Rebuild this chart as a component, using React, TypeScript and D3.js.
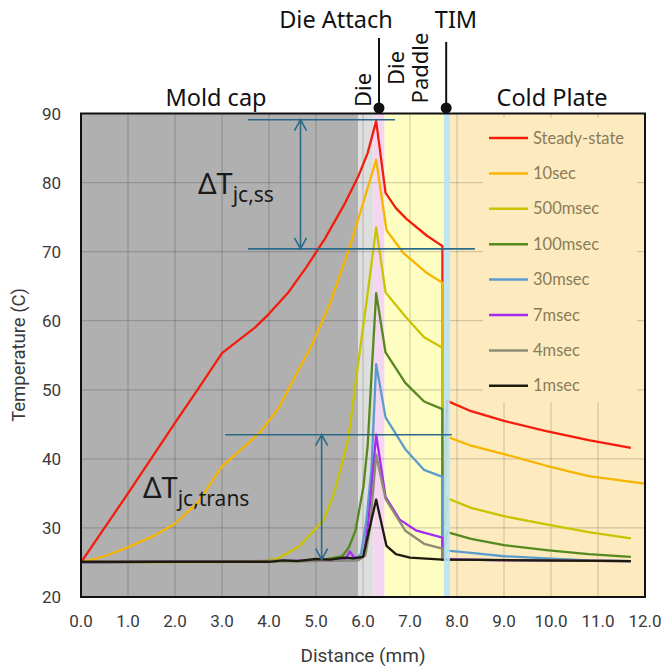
import * as d3 from "d3";

// distance (mm) / temperature (C) pairs
const steadyState: [number, number][] = [
  [0, 25], [0.5, 30], [1, 35], [1.5, 40.1], [2, 45.2], [2.5, 50.2], [3, 55.3], [3.3, 56.9],
  [3.7, 59.0], [4.0, 61.0], [4.4, 64.0], [4.8, 67.8], [5.2, 72.0], [5.6, 76.8], [5.9, 80.9],
  [6.1, 84.3], [6.28, 88.9], [6.48, 78.5], [6.7, 76.3], [6.93, 74.7], [7.36, 72.3], [7.69, 70.8],
  [7.69, 25.4], [7.79, 48.4], [8.3, 46.9], [9.0, 45.5], [9.9, 44.0], [10.8, 42.7], [11.7, 41.6],
];
const tenSec: [number, number][] = [
  [0, 25], [0.5, 25.9], [1, 27.2], [1.5, 28.7], [2, 30.6], [2.5, 33.8], [3, 38.9], [3.4, 41.3],
  [3.8, 43.8], [4.2, 47.3], [4.6, 52.5], [4.9, 56.3], [5.3, 62.5], [5.72, 70.7], [6.0, 77.0],
  [6.28, 83.3], [6.5, 73.1], [6.86, 69.8], [7.36, 66.9], [7.69, 65.5],
  [7.69, 25.4], [7.79, 43.2], [8.3, 41.9], [9.0, 40.7], [9.9, 39.0], [10.8, 37.5], [12.0, 36.4],
];
const fiveHundredMs: [number, number][] = [
  [0, 25], [3.8, 25.1], [4.2, 25.6], [4.64, 27.3], [5.16, 31.1], [5.4, 35.3], [5.69, 43.0],
  [5.94, 56.0], [6.1, 64.0], [6.28, 73.5], [6.48, 64.1], [6.9, 60.6], [7.3, 57.6], [7.69, 56.1],
  [7.69, 25.4], [7.79, 34.3], [8.3, 32.9], [9.0, 31.7], [9.9, 30.5], [10.8, 29.4], [11.7, 28.5],
];
const hundredMs: [number, number][] = [
  [0, 25], [5.0, 25.2], [5.56, 25.9], [5.7, 27.2], [5.84, 29.6], [6.01, 36.0], [6.1, 42.0],
  [6.18, 52.0], [6.28, 64.0], [6.48, 55.4], [6.9, 51.0], [7.3, 48.3], [7.69, 47.2],
  [7.69, 25.4], [7.79, 29.4], [8.3, 28.4], [9.0, 27.5], [9.9, 26.8], [10.8, 26.2], [11.7, 25.8],
];
const thirtyMs: [number, number][] = [
  [0, 25], [5.85, 25.3], [5.96, 26.3], [6.07, 31.0], [6.18, 38.5], [6.28, 53.7], [6.48, 46.0],
  [6.9, 41.4], [7.3, 38.4], [7.69, 37.4],
  [7.69, 25.4], [7.79, 26.7], [8.3, 26.4], [9.0, 25.9], [9.9, 25.6], [10.8, 25.3], [11.7, 25.2],
];
const sevenMs: [number, number][] = [
  [0, 25], [5.5, 25.3], [5.62, 25.4], [5.72, 26.6], [5.8, 25.8], [5.93, 25.6], [6.02, 26.0],
  [6.12, 31.3], [6.28, 43.5], [6.48, 34.5], [6.78, 31.2], [7.14, 29.6], [7.69, 28.6],
  [7.69, 25.4], [7.79, 25.5], [9.0, 25.3], [11.7, 25.2],
];
const fourMs: [number, number][] = [
  [0, 25], [5.9, 25.3], [6.05, 26.0], [6.15, 30.0], [6.28, 40.6], [6.48, 34.2], [6.9, 29.6],
  [7.3, 27.7], [7.69, 27.0], [7.69, 25.4], [7.79, 25.4], [11.7, 25.2],
];
const oneMs: [number, number][] = [
  [0, 25.1], [4.0, 25.1], [4.3, 25.3], [4.6, 25.2], [5.0, 25.5], [5.3, 25.4], [5.6, 25.7],
  [5.8, 25.6], [6.0, 25.8], [6.28, 34.1], [6.5, 27.4], [6.7, 26.2], [7.0, 25.7], [7.69, 25.4],
  [11.7, 25.2],
];

const seriesNames = ["Steady-state", "10sec", "500msec", "100msec", "30msec", "7msec", "4msec", "1msec"];
const seriesColors = ["#f41c0c", "#f7b500", "#c9c300", "#55881e", "#5b9ccc", "#a42cf0", "#8e8a74", "#1e1a0e"];
const allSeries = [steadyState, tenSec, fiveHundredMs, hundredMs, thirtyMs, sevenMs, fourMs, oneMs];

// layer bands along distance
const layerStart = [0, 5.9, 6.22, 6.46, 7.72, 7.85];
const layerEnd = [5.9, 6.22, 6.46, 7.72, 7.85, 12];
const layerColors = ["#b0b0b0", "#dedede", "#f4d6f0", "#fefdc2", "#b6e2f2", "#fdebbf"];

const distTicks = d3.range(0, 13, 1);
const tempTicks = d3.range(20, 100, 10);

const W = 665, H = 667;

export default function App() {
  const x = d3.scaleLinear().domain([0, 12]).range([81, 645]);
  const y = d3.scaleLinear().domain([20, 90]).range([597, 113.5]);
  const line = d3.line<[number, number]>().x(d => x(d[0])).y(d => y(d[1]));
  const teal = "#2b6a88";
  const lab = "'Noto Sans', sans-serif";
  const tick = "Roboto, sans-serif";

  const arrow = (ax: number, y1: number, y2: number) =>
    `M${ax - 6},${y1 + 11}L${ax},${y1}L${ax + 6},${y1 + 11}M${ax},${y1}L${ax},${y2}M${ax - 6},${y2 - 11}L${ax},${y2}L${ax + 6},${y2 - 11}`;

  return (
    <svg width={W} height={H} style={{ position: "absolute", left: 0, top: 0, background: "#fff" }}>
      {/* layer backgrounds (TIM drawn on top of the lines later) */}
      {layerStart.map((s, i) => i === 4 ? null : (
        <rect key={i} x={x(s)} y={y(90)} width={x(layerEnd[i]) - x(s)} height={y(20) - y(90)} fill={layerColors[i]} />
      ))}
      {/* grid */}
      {distTicks.map(t => (
        <line key={"gx" + t} x1={x(t)} x2={x(t)} y1={y(20)} y2={y(90)} stroke="rgba(0,0,0,0.17)" strokeWidth={1.2} />
      ))}
      {tempTicks.map(t => (
        <line key={"gy" + t} x1={x(0)} x2={x(12)} y1={y(t)} y2={y(t)} stroke="rgba(0,0,0,0.17)" strokeWidth={1.2} />
      ))}
      {/* legend box */}
      <rect x={483} y={118} width={154} height={284} fill={layerColors[5]} />
      {seriesNames.map((n, i) => (
        <g key={n}>
          <line x1={489} x2={528} y1={138 + i * 35.4} y2={138 + i * 35.4} stroke={seriesColors[i]} strokeWidth={2.5} />
          <text x={533} y={138 + i * 35.4 + 5.5} fontFamily="Lato, sans-serif" fontSize={16.5} fill="#8a7b58">{n}</text>
        </g>
      ))}
      {/* series */}
      {allSeries.map((s, i) => (
        <path key={i} d={line(s) || ""} fill="none" stroke={seriesColors[i]} strokeWidth={2.3} strokeLinejoin="round" />
      ))}
      <rect x={x(layerStart[4])} y={y(90)} width={x(layerEnd[4]) - x(layerStart[4])} height={y(20) - y(90)} fill={layerColors[4]} opacity={0.9} />
      {/* frame */}
      <rect x={x(0)} y={y(90)} width={x(12) - x(0)} height={y(20) - y(90)} fill="none" stroke="#111" strokeWidth={2} />

      {/* delta T annotations */}
      <g stroke={teal} strokeWidth={1.6} fill="none">
        <line x1={x(3.55)} x2={x(6.68)} y1={y(89.1)} y2={y(89.1)} />
        <line x1={x(3.55)} x2={x(8.38)} y1={y(70.4)} y2={y(70.4)} />
        <path d={arrow(x(4.67), y(89.1), y(70.4))} />
        <line x1={x(3.07)} x2={x(7.89)} y1={y(43.5)} y2={y(43.5)} />
        <path d={arrow(x(5.12), y(43.5), y(25.4))} />
      </g>
      <text x={198} y={194} fontFamily={lab} fill="#1a1a1a">
        <tspan fontSize={29}>ΔT</tspan><tspan fontSize={21} dy={8}>jc,ss</tspan>
      </text>
      <text x={143} y={498} fontFamily={lab} fill="#1a1a1a">
        <tspan fontSize={29}>ΔT</tspan><tspan fontSize={21} dy={8}>jc,trans</tspan>
      </text>

      {/* layer labels */}
      <g fontFamily={lab} fontSize={23.5} fill="#111">
        <text x={336} y={28} textAnchor="middle">Die Attach</text>
        <text x={456} y={28} textAnchor="middle">TIM</text>
        <text x={216} y={106} textAnchor="middle">Mold cap</text>
        <text x={552} y={106} textAnchor="middle">Cold Plate</text>
        <text transform="translate(371,107) rotate(-90)" fontSize={22}>Die</text>
        <text transform="translate(404,68) rotate(-90)" fontSize={22} textAnchor="middle">Die</text>
        <text transform="translate(428,68) rotate(-90)" fontSize={22} textAnchor="middle">Paddle</text>
      </g>
      <line x1={x(6.34)} x2={x(6.34)} y1={38} y2={108} stroke="#111" strokeWidth={2} />
      <circle cx={x(6.34)} cy={108} r={5.5} fill="#111" />
      <line x1={x(7.77)} x2={x(7.77)} y1={42} y2={108} stroke="#111" strokeWidth={2} />
      <circle cx={x(7.77)} cy={108} r={5.5} fill="#111" />

      {/* axes */}
      {distTicks.map(t => (
        <text key={"tx" + t} x={x(t)} y={627} textAnchor="middle" fontFamily={tick} fontSize={17} fill="#3a3a3a">{t.toFixed(1)}</text>
      ))}
      {tempTicks.map(t => (
        <text key={"ty" + t} x={61} y={y(t) + 6} textAnchor="end" fontFamily={tick} fontSize={17} fill="#3a3a3a">{t}</text>
      ))}
      <text x={363} y={662} textAnchor="middle" fontFamily={tick} fontSize={19} fill="#3a3a3a">Distance (mm)</text>
      <text transform="translate(25,355) rotate(-90)" textAnchor="middle" fontFamily={tick} fontSize={18.5} fill="#3a3a3a">Temperature (C)</text>
    </svg>
  );
}
